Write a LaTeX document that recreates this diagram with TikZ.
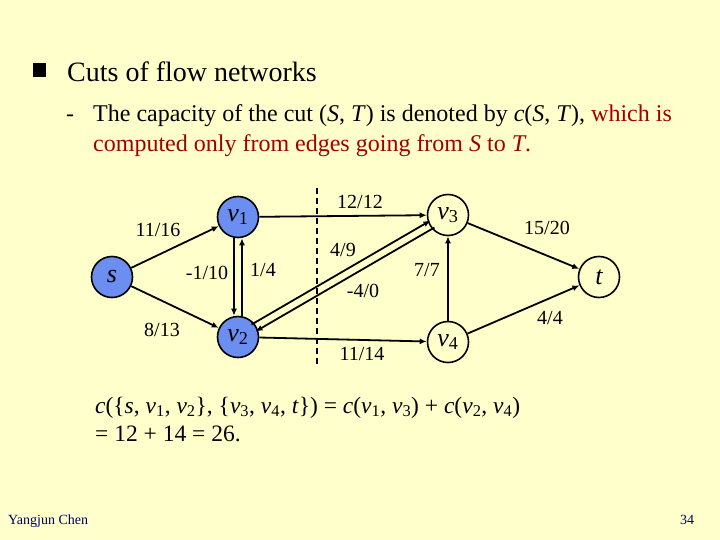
\documentclass[tikz,border=0pt]{standalone}
\usepackage{fontspec}
\setmainfont{Liberation Serif}
\usetikzlibrary{calc,arrows.meta}
\definecolor{bgyellow}{HTML}{FFFFCC}
\definecolor{nodeblue}{HTML}{6C8EF0}
\definecolor{darkred}{HTML}{A00000}
\definecolor{footblue}{HTML}{000066}
\newcommand{\idx}[1]{\textsubscript{#1}}
\begin{document}
\begin{tikzpicture}[x=1pt,y=-1pt,
  vtx/.style={circle,draw=black,line width=1.6pt,minimum size=41pt,inner sep=0pt,font=\fontsize{26}{26}\selectfont\itshape},
  bluevtx/.style={vtx,fill=nodeblue},
  whitevtx/.style={vtx},
  edge/.style={line width=1.8pt,-{Latex[length=7pt,width=6pt]}},
  elabel/.style={font=\fontsize{20}{20}\selectfont},
  txt/.style={anchor=base west,inner sep=0pt}]
\fill[bgyellow] (0,0) rectangle (720,540);
\useasboundingbox (0,0) rectangle (720,540);

% header text
\fill[black] (33,63) rectangle (46,77);
\node[txt,font=\fontsize{28}{28}\selectfont] (h1) at (67,82) {Cuts of flow networks};
\node[txt,font=\fontsize{24}{24}\selectfont] (dash) at (66,122) {-};
\node[txt,font=\fontsize{24}{24}\selectfont] (h2) at (93,122) {The capacity of the cut (\textit{S}, \textit{T}) is denoted by \textit{c}(\textit{S}, \textit{T}), \textcolor{darkred}{which is}};
\node[txt,font=\fontsize{24}{24}\selectfont,text=darkred] (h3) at (93,152) {computed only from edges going from \textit{S} to \textit{T}.};

% nodes
\node[bluevtx] (s) at (112,277) {s};
\node[bluevtx] (v1) at (238,217) {v\idx{\upshape 1}};
\node[bluevtx] (v2) at (238,337) {v\idx{\upshape 2}};
\node[whitevtx] (v3) at (448,215) {v\idx{\upshape 3}};
\node[whitevtx] (v4) at (448,342) {v\idx{\upshape 4}};
\node[whitevtx] (t) at (599,277) {t};

% cut line
\coordinate (cuttop) at (317,188);
\coordinate (cutbot) at (317,364);
\draw[line width=1.5pt,dash pattern=on 6pt off 4pt] (cuttop) -- (cutbot);

% edges
\draw[edge] (s) -- (v1);
\draw[edge] (s) -- (v2);
\draw[edge] ([xshift=-4pt]v1.south) -- ([xshift=-4pt]v2.north);
\draw[edge] ([xshift=4pt]v2.north) -- ([xshift=4pt]v1.south);
\draw[edge] (v1) -- (v3);
\draw[edge] (v2) -- (v4);
\draw[edge] (v4) -- (v3);
\draw[edge] (v3) -- (t);
\draw[edge] (v4) -- (t);
\draw[edge,shorten <=18pt,shorten >=18pt] ($(v2.center)!4pt!90:(v3.center)$) -- ($(v3.center)!4pt!-90:(v2.center)$);
\draw[edge,shorten <=18pt,shorten >=18pt] ($(v3.center)!4pt!90:(v2.center)$) -- ($(v2.center)!4pt!-90:(v3.center)$);

% edge labels
\node[elabel] (l1) at (158,230) {11/16};
\node[elabel] (l2) at (162,330) {8/13};
\node[elabel] (l3) at (207,273) {-1/10};
\node[elabel] (l4) at (263,270) {1/4};
\node[elabel] (l5) at (360,202) {12/12};
\node[elabel] (l6) at (343,250) {4/9};
\node[elabel] (l7) at (363,291) {-4/0};
\node[elabel] (l8) at (362,354) {11/14};
\node[elabel] (l9) at (427,270) {7/7};
\node[elabel] (l10) at (547,228) {15/20};
\node[elabel] (l11) at (550,318) {4/4};

% formula
\node[txt,font=\fontsize{23.5}{23.5}\selectfont] (f1) at (95,413) {\textit{c}(\{\textit{s}, \textit{v}\idx{1}, \textit{v}\idx{2}\}, \{\textit{v}\idx{3}, \textit{v}\idx{4}, \textit{t}\}) = \textit{c}(\textit{v}\idx{1}, \textit{v}\idx{3}) + \textit{c}(\textit{v}\idx{2}, \textit{v}\idx{4})};
\node[txt,font=\fontsize{23.5}{23.5}\selectfont] (f2) at (95,441) {= 12 + 14 = 26.};

% footer
\node[txt,font=\fontsize{14}{14}\selectfont,text=footblue] (foot) at (8,524) {Yangjun Chen};
\node[txt,font=\fontsize{14}{14}\selectfont,text=footblue] (page) at (680,524) {34};
\end{tikzpicture}
\end{document}
